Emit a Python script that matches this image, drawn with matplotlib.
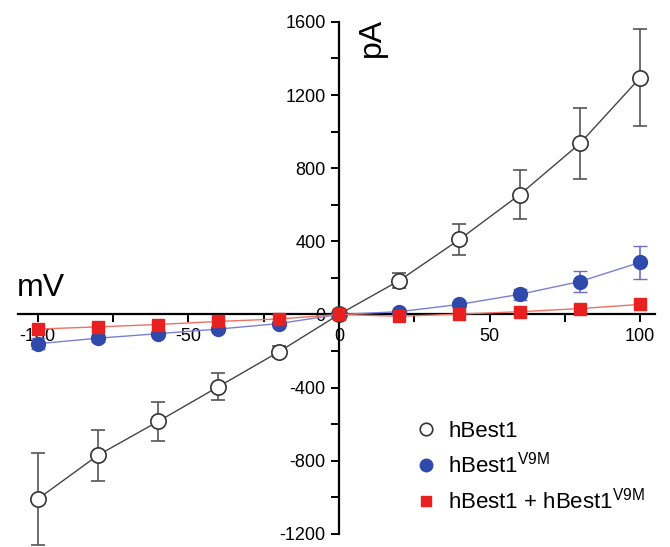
import matplotlib.pyplot as plt
from matplotlib.lines import Line2D
import numpy as np

# membrane potential (mV)
voltage = [-100, -80, -60, -40, -20, 0, 20, 40, 60, 80, 100]

# current (pA) and SEM for each construct
wt_current = [-1010, -770, -585, -395, -205, 0, 185, 410, 655, 935, 1295]
wt_err = [250, 140, 105, 75, 30, 10, 40, 85, 135, 195, 265]

v9m_current = [-160, -130, -105, -80, -50, 0, 15, 55, 110, 180, 285]
v9m_err = [30, 20, 15, 10, 8, 5, 10, 15, 30, 55, 90]

mix_current = [-80, -68, -55, -38, -25, 0, -10, 2, 15, 32, 55]
mix_err = [10, 8, 6, 5, 4, 3, 4, 5, 6, 8, 10]

labels = ['hBest1', r'hBest1$\mathregular{^{V9M}}$',
          r'hBest1 + hBest1$\mathregular{^{V9M}}$']

plt.rcParams['font.family'] = ['Liberation Sans', 'DejaVu Sans']
plt.rcParams['axes.unicode_minus'] = False

fig = plt.figure(figsize=(6.7, 5.47), dpi=100)
ax = fig.add_axes([0.027, 0.024, 0.951, 0.936])

ax.errorbar(voltage, wt_current, yerr=wt_err, color='#444444', lw=1.0,
            marker='o', ms=11, mfc='white', mec='#333333', mew=1.2,
            ecolor='#555555', elinewidth=1.2, capsize=5, zorder=3,
            clip_on=False)
ax.errorbar(voltage, v9m_current, yerr=v9m_err, color='#7b7fd6', lw=1.0,
            marker='o', ms=10, mfc='#2f4aab', mec='#2f4aab',
            ecolor='#6a6fcc', elinewidth=1.2, capsize=5, zorder=4,
            clip_on=False)
ax.errorbar(voltage, mix_current, yerr=mix_err, color='#f07060', lw=1.0,
            marker='s', ms=8, mfc='#e82020', mec='#e82020',
            ecolor='#f07060', elinewidth=1.0, capsize=4, zorder=5,
            clip_on=False)

ax.set_xlim(-106.5, 105)
ax.set_ylim(-1200, 1600)

for side in ['top', 'right']:
    ax.spines[side].set_visible(False)
ax.spines['left'].set_position(('data', 0))
ax.spines['bottom'].set_position(('data', 0))
ax.spines['left'].set_linewidth(1.6)
ax.spines['bottom'].set_linewidth(1.6)

ax.set_xticks([-100, -50, 0, 50, 100])
ax.set_xticks([-75, -25, 25, 75], minor=True)
ax.set_yticks(np.arange(-1200, 1601, 400))
ax.set_yticks(np.arange(-1000, 1601, 400), minor=True)
ax.tick_params(which='both', direction='out', length=6, width=1.4,
               labelsize=13)

ax.text(-107, 60, 'mV', fontsize=23, ha='left', va='bottom')
ax.text(6, 1620, 'pA', fontsize=23, rotation=90, ha='left', va='top')

handles = [
    Line2D([], [], ls='none', marker='o', ms=9, mfc='white', mec='#333333', mew=1.2),
    Line2D([], [], ls='none', marker='o', ms=9, mfc='#2f4aab', mec='#2f4aab'),
    Line2D([], [], ls='none', marker='s', ms=7, mfc='#e82020', mec='#e82020'),
]
ax.legend(handles, labels, loc='lower right', frameon=False,
          fontsize=16, handlelength=1.0, handletextpad=0.5,
          labelspacing=0.45, bbox_to_anchor=(1.015, 0.0))

fig.savefig('out.png', dpi=100)
